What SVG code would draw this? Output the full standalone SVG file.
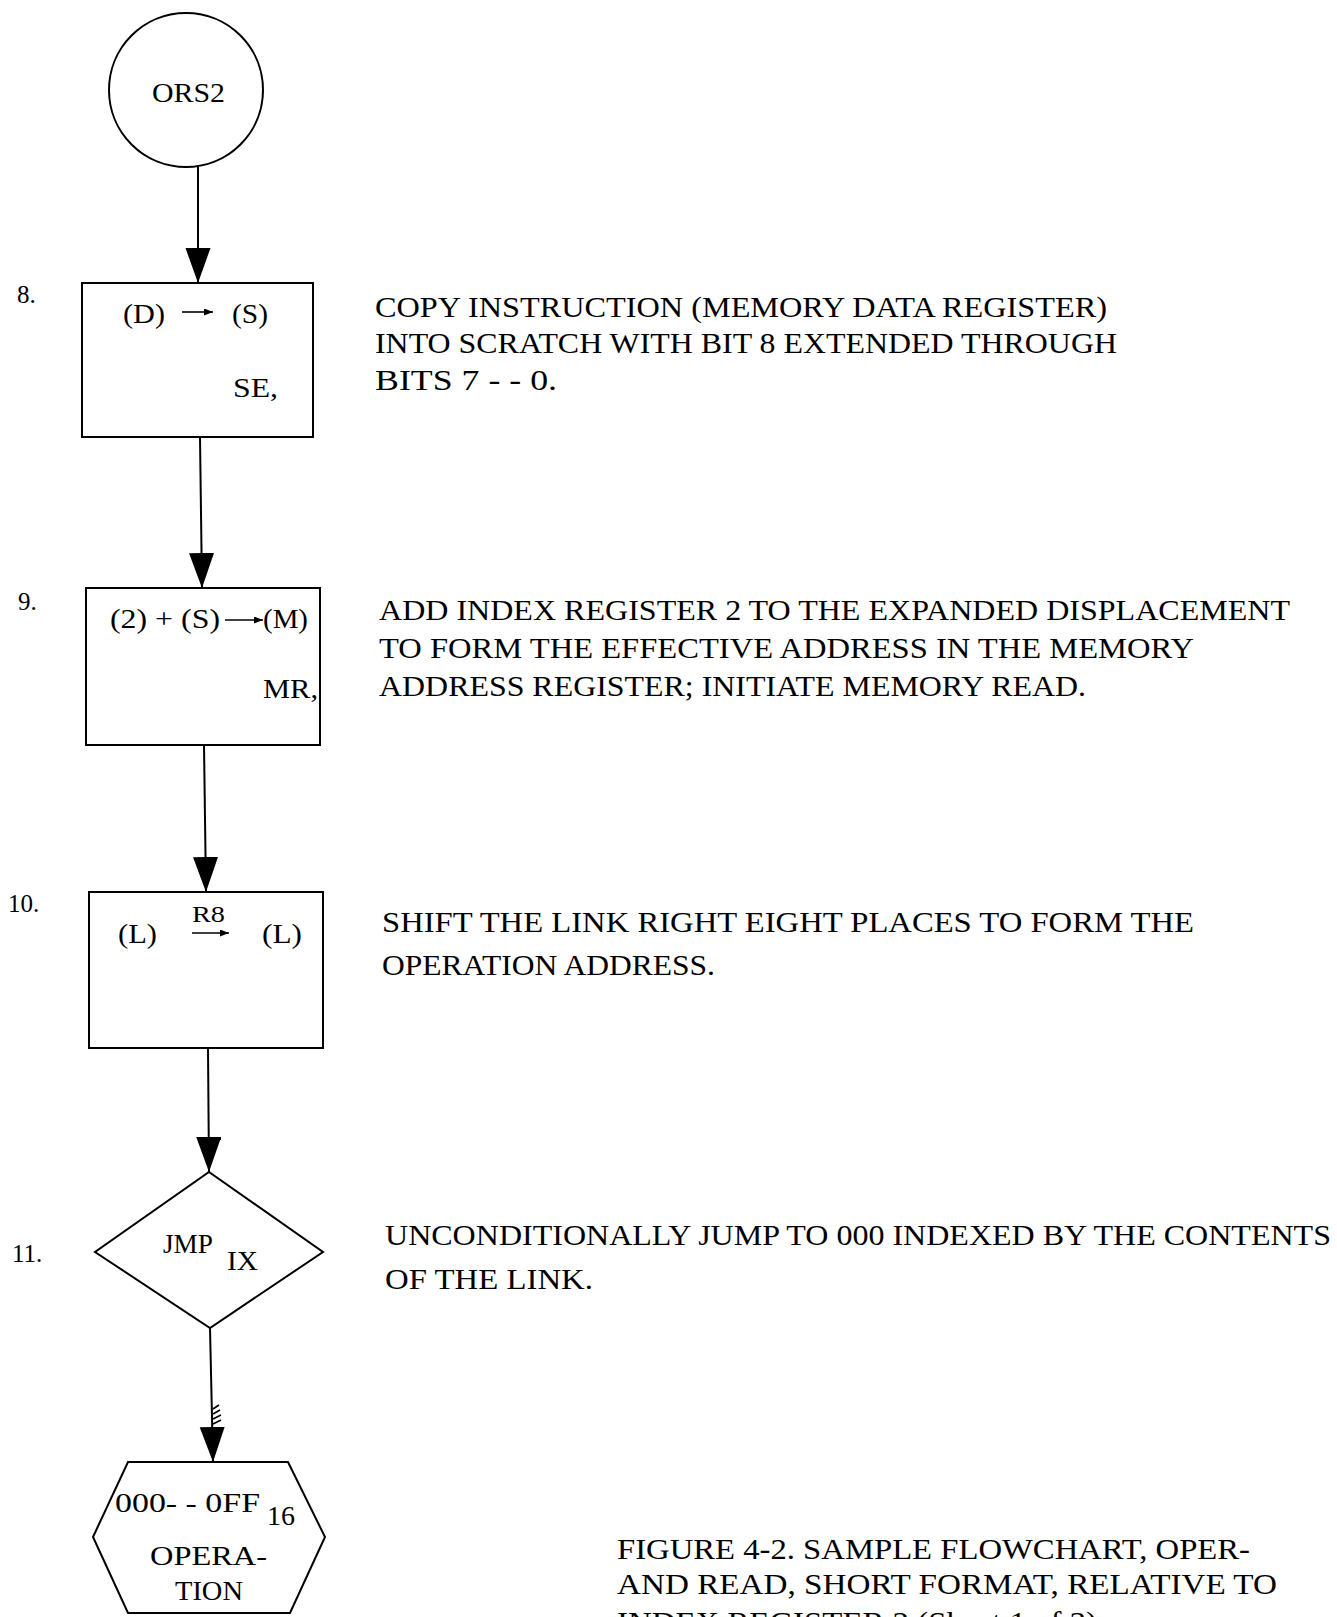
<svg xmlns="http://www.w3.org/2000/svg" width="1337" height="1617" viewBox="0 0 1337 1617">
  <defs>
    <marker id="head" markerUnits="userSpaceOnUse" markerWidth="36" markerHeight="26" refX="35" refY="12.5" orient="auto">
      <path d="M0,0 L35,12.5 L0,25 Z" fill="#000"/>
    </marker>
    <marker id="tick" markerUnits="userSpaceOnUse" markerWidth="10" markerHeight="8" refX="9" refY="3.5" orient="auto">
      <path d="M0,0 L9,3.5 L0,7 Z" fill="#000"/>
    </marker>
  </defs>
  <style>
    .shape { fill: #fff; stroke: #000; stroke-width: 2; }
    .edge { fill: none; stroke: #000; stroke-width: 2; }
    .inner { fill: none; stroke: #000; stroke-width: 1.6; }
    .t { font-family: "Liberation Serif", "DejaVu Serif", serif; font-size: 28px; fill: #000; }
    .sub { font-family: "Liberation Serif", "DejaVu Serif", serif; font-size: 23px; fill: #000; }
    .num { font-family: "Liberation Serif", "DejaVu Serif", serif; font-size: 25px; fill: #000; }
    .note { font-family: "Liberation Serif", "DejaVu Serif", serif; font-size: 29px; fill: #000; }
  </style>
  <rect width="1337" height="1617" fill="#fff"/>

  <!-- connectors between the flowchart steps -->
  <g id="connectors">
    <line class="edge" x1="198" y1="167" x2="198" y2="283" marker-end="url(#head)"/>
    <line class="edge" x1="200" y1="437" x2="202" y2="588" marker-end="url(#head)"/>
    <line class="edge" x1="204" y1="745" x2="206" y2="892" marker-end="url(#head)"/>
    <line class="edge" x1="208" y1="1048" x2="209" y2="1172" marker-end="url(#head)"/>
    <line class="edge" x1="198" y1="1139" x2="221" y2="1139"/>
    <line class="edge" x1="210" y1="1328" x2="213" y2="1462" marker-end="url(#head)"/>
    <path class="inner" d="M213,1409 L219,1405 M213,1414 L220,1410 M213,1419 L221,1415 M213,1424 L221,1420" stroke-width="1.2"/>
  </g>

  <!-- entry point -->
  <g id="node-ors2">
    <circle class="shape" cx="186" cy="90" r="77"/>
    <text class="t" x="152" y="102" textLength="73" lengthAdjust="spacingAndGlyphs">ORS2</text>
  </g>

  <!-- step 8 -->
  <g id="node-8">
    <text class="num" x="17" y="303">8.</text>
    <rect class="shape" x="82" y="283" width="231" height="154"/>
    <text class="t" x="123" y="323" textLength="42" lengthAdjust="spacingAndGlyphs">(D)</text>
    <line class="inner" x1="182" y1="312" x2="213" y2="312" marker-end="url(#tick)"/>
    <text class="t" x="232" y="323" textLength="36" lengthAdjust="spacingAndGlyphs">(S)</text>
    <text class="t" x="233" y="397" textLength="45" lengthAdjust="spacingAndGlyphs">SE,</text>
  </g>
  <g id="note-8">
    <text class="note" x="375" y="317" textLength="732" lengthAdjust="spacingAndGlyphs">COPY INSTRUCTION (MEMORY DATA REGISTER)</text>
    <text class="note" x="375" y="353" textLength="742" lengthAdjust="spacingAndGlyphs">INTO SCRATCH WITH BIT 8 EXTENDED THROUGH</text>
    <text class="note" x="375" y="390" textLength="182" lengthAdjust="spacingAndGlyphs">BITS 7 - - 0.</text>
  </g>

  <!-- step 9 -->
  <g id="node-9">
    <text class="num" x="18" y="610">9.</text>
    <rect class="shape" x="86" y="588" width="234" height="157"/>
    <text class="t" x="110" y="628" textLength="110" lengthAdjust="spacingAndGlyphs">(2) + (S)</text>
    <line class="inner" x1="225" y1="620" x2="263" y2="620" marker-end="url(#tick)"/>
    <text class="t" x="263" y="628" textLength="45" lengthAdjust="spacingAndGlyphs">(M)</text>
    <text class="t" x="263" y="698" textLength="55" lengthAdjust="spacingAndGlyphs">MR,</text>
  </g>
  <g id="note-9">
    <text class="note" x="379" y="620" textLength="911" lengthAdjust="spacingAndGlyphs">ADD INDEX REGISTER 2 TO THE EXPANDED DISPLACEMENT</text>
    <text class="note" x="379" y="658" textLength="815" lengthAdjust="spacingAndGlyphs">TO FORM THE EFFECTIVE ADDRESS IN THE MEMORY</text>
    <text class="note" x="379" y="696" textLength="707" lengthAdjust="spacingAndGlyphs">ADDRESS REGISTER; INITIATE MEMORY READ.</text>
  </g>

  <!-- step 10 -->
  <g id="node-10">
    <text class="num" x="8" y="912">10.</text>
    <rect class="shape" x="89" y="892" width="234" height="156"/>
    <text class="t" x="118" y="943" textLength="39" lengthAdjust="spacingAndGlyphs">(L)</text>
    <text class="sub" x="192" y="922" textLength="33" lengthAdjust="spacingAndGlyphs">R8</text>
    <line class="inner" x1="192" y1="933" x2="229" y2="933" marker-end="url(#tick)"/>
    <text class="t" x="262" y="943" textLength="40" lengthAdjust="spacingAndGlyphs">(L)</text>
  </g>
  <g id="note-10">
    <text class="note" x="382" y="932" textLength="812" lengthAdjust="spacingAndGlyphs">SHIFT THE LINK RIGHT EIGHT PLACES TO FORM THE</text>
    <text class="note" x="382" y="975" textLength="333" lengthAdjust="spacingAndGlyphs">OPERATION ADDRESS.</text>
  </g>

  <!-- step 11 -->
  <g id="node-11">
    <text class="num" x="12" y="1262">11.</text>
    <polygon class="shape" points="209,1172 323,1252 210,1328 95,1252"/>
    <text class="t" x="163" y="1253" textLength="50" lengthAdjust="spacingAndGlyphs">JMP</text>
    <text class="t" x="227" y="1270" textLength="31" lengthAdjust="spacingAndGlyphs">IX</text>
  </g>
  <g id="note-11">
    <text class="note" x="385" y="1245" textLength="946" lengthAdjust="spacingAndGlyphs">UNCONDITIONALLY JUMP TO 000 INDEXED BY THE CONTENTS</text>
    <text class="note" x="385" y="1289" textLength="208" lengthAdjust="spacingAndGlyphs">OF THE LINK.</text>
  </g>

  <!-- exit to operation table -->
  <g id="node-operation">
    <polygon class="shape" points="128,1462 288,1462 325,1537 290,1613 128,1613 93,1537"/>
    <text class="t" x="115" y="1512" textLength="145" lengthAdjust="spacingAndGlyphs">000- - 0FF</text>
    <text class="t" x="267" y="1525" textLength="28" lengthAdjust="spacingAndGlyphs">16</text>
    <text class="t" x="150" y="1565" textLength="117" lengthAdjust="spacingAndGlyphs">OPERA-</text>
    <text class="t" x="175" y="1600" textLength="68" lengthAdjust="spacingAndGlyphs">TION</text>
  </g>

  <!-- figure caption -->
  <g id="caption">
    <text class="note" x="617" y="1559" textLength="633" lengthAdjust="spacingAndGlyphs">FIGURE 4-2. SAMPLE FLOWCHART, OPER-</text>
    <text class="note" x="617" y="1594" textLength="660" lengthAdjust="spacingAndGlyphs">AND READ, SHORT FORMAT, RELATIVE TO</text>
    <text class="note" x="617" y="1632" textLength="480" lengthAdjust="spacingAndGlyphs">INDEX REGISTER 2 (Sheet 1 of 3)</text>
  </g>
</svg>
